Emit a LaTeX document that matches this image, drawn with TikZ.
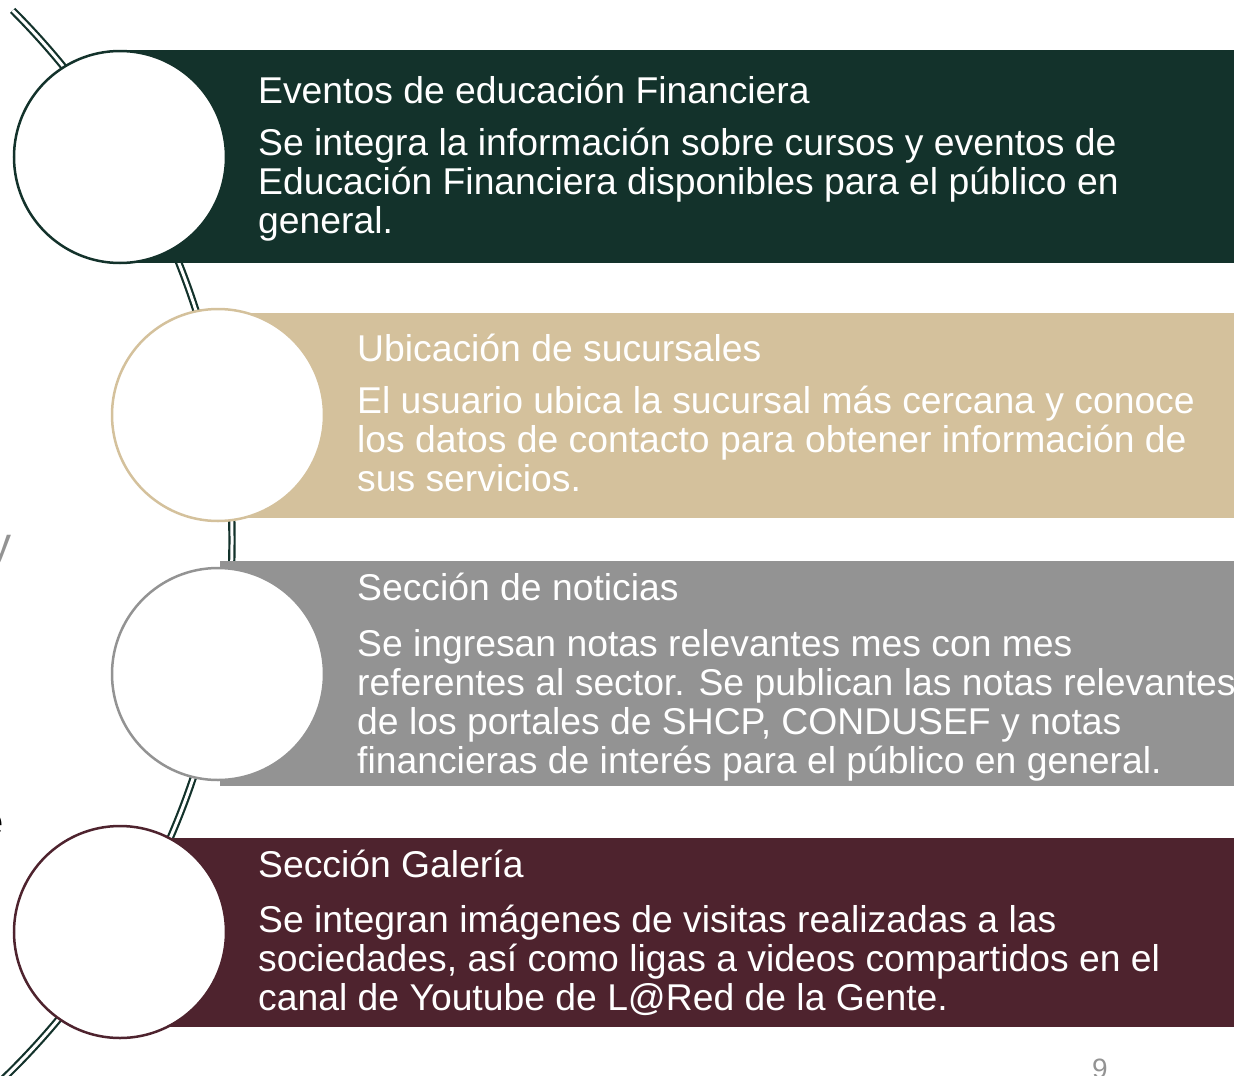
\documentclass[tikz,border=0pt]{standalone}
\usepackage{fontspec}
\setmainfont{Liberation Sans}
\definecolor{verde}{HTML}{13322B}
\definecolor{dorado}{HTML}{D4C19C}
\definecolor{gris}{HTML}{939393}
\definecolor{guinda}{HTML}{4E232E}

\begin{document}
\begin{tikzpicture}[x=1pt, y=-1pt,
  ring/.style={circle, draw=#1, fill=white, line width=2.5pt, minimum size=212pt, inner sep=0pt},
  title/.style={anchor=base west, text=white, inner sep=0pt, font=\fontsize{37.3}{39}\selectfont},
  body/.style={anchor=base west, text=white, inner sep=0pt, align=left, font=\fontsize{37.3}{39}\selectfont}]

\useasboundingbox (0,0) rectangle (1234,1076);
\clip (0,0) rectangle (1234,1076);

% arco de fondo
\coordinate (centro) at (-517,540);
\draw[verde, line width=2.2pt, double=white, double distance=3pt]
  (centro) ++(-45:749) arc[start angle=-45, end angle=47, radius=749];

% franjas
\fill[verde] (120,50) rectangle (1234,263);
\fill[dorado] (218,313) rectangle (1234,518);
\fill[gris] (220,561) rectangle (1234,786);
\fill[guinda] (120,838) rectangle (1234,1027);

% circulos
\node[ring=verde] (c1) at (120,157) {};
\node[ring=dorado] (c2) at (218,415) {};
\node[ring=gris] (c3) at (218,674) {};
\node[ring=guinda] (c4) at (120,932) {};

% textos (el cuerpo se ancla en la base de su ultima linea)
\node[title] (t1) at (258,103) {Eventos de educación Financiera};
\node[body] (b1) at (258,233) {Se integra la información sobre cursos y eventos de\\Educación Financiera disponibles para el público en\\general.};

\node[title] (t2) at (357,361) {Ubicación de sucursales};
\node[body] (b2) at (357,491) {El usuario ubica la sucursal más cercana y conoce\\los datos de contacto para obtener información de\\sus servicios.};

\node[title] (t3) at (357,600) {Sección de noticias};
\node[body] (b3) at (357,773) {Se ingresan notas relevantes mes con mes\\referentes al sector. Se publican las notas relevantes\\de los portales de SHCP, CONDUSEF y notas\\financieras de interés para el público en general.};

\node[title] (t4) at (258,877) {Sección Galería};
\node[body] (b4) at (258,1010) {Se integran imágenes de visitas realizadas a las\\sociedades, así como ligas a videos compartidos en el\\canal de Youtube de L@Red de la Gente.};

% restos del margen y numero de pagina
\node[anchor=base east, inner sep=0pt, text=gris, font=\fontsize{44}{44}\selectfont] (fy) at (12,558) {y};
\node[anchor=base east, inner sep=0pt, text=black, font=\fontsize{40}{40}\selectfont] (fe) at (4,835) {e};
\node[anchor=base, inner sep=0pt, text=gris, font=\fontsize{28}{28}\selectfont] (pag) at (1100,1078) {9};
\end{tikzpicture}
\end{document}
